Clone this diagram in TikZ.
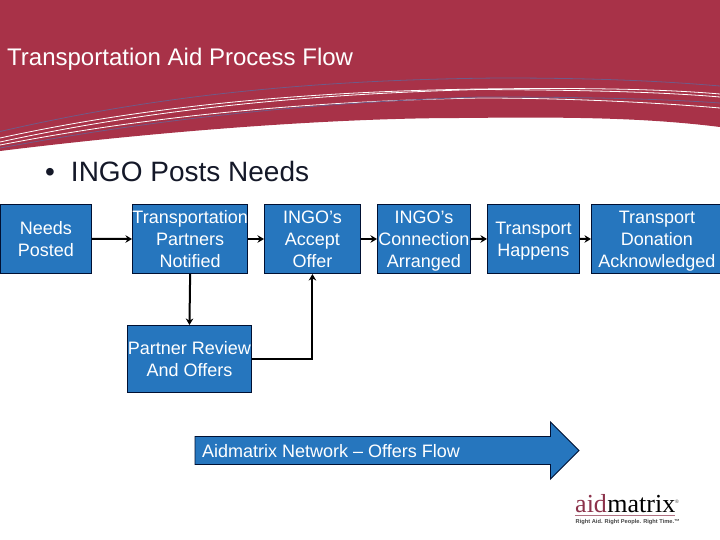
\documentclass[tikz,border=0pt]{standalone}
\usepackage{fontspec}
\setmainfont{Liberation Sans}
\newfontfamily\logofont{Liberation Serif}
\usetikzlibrary{arrows.meta}
\definecolor{banner}{RGB}{168,50,72}
\definecolor{boxblue}{RGB}{38,118,190}
\definecolor{navy}{RGB}{0,16,50}
\definecolor{bullettext}{RGB}{20,24,40}
\definecolor{swoosh}{RGB}{112,90,135}
\definecolor{logored}{RGB}{140,50,75}
\definecolor{logogray}{RGB}{70,70,70}
\newcommand\firstln{\rule{0pt}{19.2pt}}
\tikzset{
  flowbox/.style={draw=navy,fill=boxblue,line width=0.9pt,text=white,font=\fontsize{18}{21.7}\selectfont,align=center,inner sep=0pt,anchor=north west},
  flowline/.style={draw=black,line width=2pt,-{Stealth[length=6.5pt,width=7.5pt]}},
  swooshw/.style={draw=white,line width=0.8pt},
  swooshp/.style={draw=swoosh,line width=0.8pt},
}
\begin{document}
\begin{tikzpicture}[x=1pt,y=-1pt]
\useasboundingbox (0,0) rectangle (720,540);
\fill[white] (0,0) rectangle (720,540);
% banner
\fill[banner] (0,0) -- (720,0) -- (720,127) .. controls (640,117) and (560,117) .. (460,118) .. controls (340,118) and (170,130) .. (0,151) -- cycle;
\draw[swooshp] (0,131.5) .. controls (120,104) and (270,80) .. (500,78) .. controls (580,78) and (650,80) .. (720,86);
\draw[swooshw] (0,138) .. controls (120,112) and (270,92) .. (480,89) .. controls (560,88) and (650,88) .. (720,94);
\draw[swooshw] (0,142) .. controls (120,116) and (270,95) .. (480,89.5) .. controls (560,90) and (650,91) .. (720,97);
\draw[swooshw] (0,145) .. controls (120,122) and (270,102) .. (480,98) .. controls (560,98) and (650,102) .. (720,108);
\draw[swooshp] (0,148) .. controls (120,126) and (270,104) .. (480,97) .. controls (560,97) and (650,98) .. (720,103);
\node[text=white,font=\fontsize{24}{28}\selectfont,anchor=base west,inner sep=0pt] (title) at (7,65.5) {Transportation Aid Process Flow};
\node[text=bullettext,font=\fontsize{28}{32}\selectfont,anchor=base west,inner sep=0pt] (bullet) at (45,182) {•\hspace{16pt}INGO Posts Needs};
% boxes
\node[flowbox,minimum width=91pt,minimum height=69pt] (needs) at (0,204) {\firstln\strut Needs\\\strut Posted};
\node[flowbox,minimum width=114pt,minimum height=69pt] (partners) at (132,204) {\firstln\strut Transportation\\\strut Partners\\\strut Notified};
\node[flowbox,minimum width=96pt,minimum height=69pt] (accept) at (264,204) {\firstln\strut INGO’s\\\strut Accept\\\strut Offer};
\node[flowbox,minimum width=93pt,minimum height=69pt] (conn) at (377,204) {\firstln\strut INGO’s\\\strut Connection\\\strut Arranged};
\node[flowbox,minimum width=92pt,minimum height=69pt] (happens) at (487,204) {\firstln\strut Transport\\\strut Happens};
\node[flowbox,minimum width=131pt,minimum height=69pt] (ack) at (591,204) {\firstln\strut Transport\\\strut Donation\\\strut Acknowledged};
\node[flowbox,minimum width=124pt,minimum height=67pt] (review) at (127,325) {\firstln\strut Partner Review\\\strut And Offers};
% connectors
\draw[flowline] (needs.east) -- (partners.west);
\draw[flowline] (partners.east) -- (accept.west);
\draw[flowline] (accept.east) -- (conn.west);
\draw[flowline] (conn.east) -- (happens.west);
\draw[flowline] (happens.east) -- (ack.west);
\draw[flowline] (partners.south) -- (review.north);
\draw[flowline] (review.east) -| (accept.south);
% block arrow
\draw[draw=navy,fill=boxblue,line width=0.9pt] (195,436.5) -- (550.5,436.5) -- (550.5,422) -- (579,450.5) -- (550.5,479) -- (550.5,464.5) -- (195,464.5) -- cycle;
\node[text=white,font=\fontsize{18}{21}\selectfont,anchor=base west,inner sep=0pt] (flowlabel) at (202,457) {Aidmatrix Network – Offers Flow};
% logo
\node[text=logored,font=\logofont\fontsize{26}{28}\selectfont,anchor=base west,inner sep=0pt] (logoa) at (575,512.5) {aid};
\node[text=black,font=\logofont\fontsize{26}{28}\selectfont,anchor=base west,inner sep=0pt] (logob) at (logoa.base east) {matrix};
\node[text=logogray,font=\fontsize{5}{6}\selectfont,anchor=base west,inner sep=0pt] (logor) at (675,503) {®};
\draw[draw=logored!70,line width=0.5pt] (logoa.base west |- 0,515.7) -- (logob.base east |- 0,515.7);
\node[text=logogray,font=\bfseries\fontsize{5.7}{7}\selectfont,anchor=base west,inner sep=0pt] (logoc) at (575.5,523) {Right Aid. Right People. Right Time.™};
\end{tikzpicture}
\end{document}
